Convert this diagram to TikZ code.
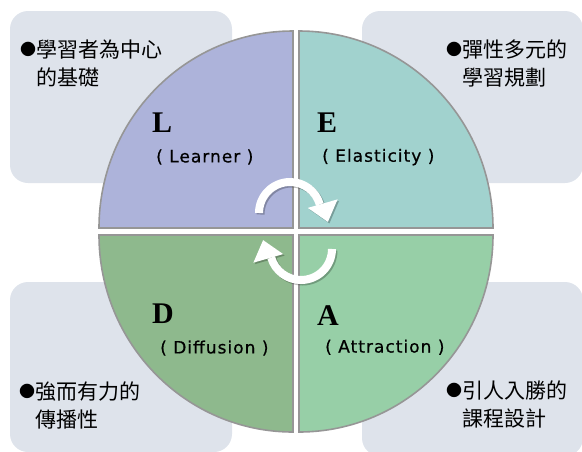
\documentclass[tikz,border=0pt]{standalone}
\usepackage{fontspec}
\newfontfamily\cjk{Noto Sans CJK TC}
\newfontfamily\capfont{Liberation Serif}
\newfontfamily\wordfont[LetterSpace=6,FakeBold=0.6]{DejaVu Sans}
\usetikzlibrary{positioning}

\definecolor{notefill}{RGB}{222,227,235}
\definecolor{quadline}{RGB}{150,150,150}
\definecolor{quadL}{RGB}{173,179,218}
\definecolor{quadE}{RGB}{161,210,206}
\definecolor{quadD}{RGB}{142,185,141}
\definecolor{quadA}{RGB}{151,207,167}

\newcommand\dotmark{\raisebox{2.2pt}{\fontsize{16}{16}\selectfont ●}}

\begin{document}
\begin{tikzpicture}[
                x=1pt, y=-1pt,
                note/.style={fill=notefill, rounded corners=18pt},
                quad/.style={draw=quadline, line width=1.6pt},
                initial/.style={inner sep=0pt, anchor=north west,
                                font=\capfont\bfseries\fontsize{30}{30}\selectfont},
                word/.style={inner sep=0pt, font=\wordfont\fontsize{17}{17}\selectfont},
                point/.style={inner sep=0pt, anchor=north west, align=left,
                              font=\cjk\fontsize{21}{28}\selectfont},
                turnshadow/.style={black, opacity=.25},
                turnface/.style={white}
            ]
                \useasboundingbox (0,0) rectangle (582,451);
                % corner notes
                \fill[note] (10,11)  rectangle (232,183);
                \fill[note] (362,11) rectangle (583,183);
                \fill[note] (10,282) rectangle (232,452);
                \fill[note] (362,282) rectangle (583,456);
                % four quarters
                \foreach \x/\y/\s/\col in {293/228/180/quadL, 299/228/270/quadE,
                                           299/235/0/quadA, 293/235/90/quadD}
                    \filldraw[quad, fill=\col] (\x,\y) -- ++(\s:194 and 197)
                        arc[start angle=\s, end angle=\s+90, x radius=194, y radius=197] -- cycle;
                % turning arrows
                \coordinate (turnA) at (290,213);
                \coordinate (turnB) at (301,249);
                \foreach \c/\a in {turnA/0, turnB/180}
                    \foreach \d/\sty in {1.5/turnshadow, 0/turnface} {
                        \begin{scope}[shift={(\c)}, shift={(\d,\d)}, rotate=\a]
                            \draw[\sty, line width=8pt] (180:31) arc[start angle=180, end angle=344, radius=31];
                            \fill[\sty] (344:18.5) -- (344:49.5) -- (37.9,8.9) -- cycle;
                        \end{scope}
                    }
                % letters
                \node (L) [initial] at (152,113) {L};
                \node (E) [initial] at (317,113) {E};
                \node (D) [initial] at (152,304) {D};
                \node (A) [initial] at (317,305) {A};
                \node (Lw) [word, below right=24pt and 4pt of L.south west, anchor=west] {( Learner )};
                \node (Ew) [word, below right=24pt and 5pt of E.south west, anchor=west] {( Elasticity )};
                \node (Dw) [word, below right=24pt and 8pt of D.south west, anchor=west] {( Diffusion )};
                \node (Aw) [word, below right=22pt and 8pt of A.south west, anchor=west] {( Attraction )};
                % notes
                \node (pL) [point] at (20,40)   {\dotmark 學習者為中心\\\phantom{\dotmark}的基礎};
                \node (pE) [point] at (446,40)  {\dotmark 彈性多元的\\\phantom{\dotmark}學習規劃};
                \node (pD) [point] at (19,382)  {\dotmark 強而有力的\\\phantom{\dotmark}傳播性};
                \node (pA) [point] at (446,381) {\dotmark 引人入勝的\\\phantom{\dotmark}課程設計};
            \end{tikzpicture}
\end{document}
